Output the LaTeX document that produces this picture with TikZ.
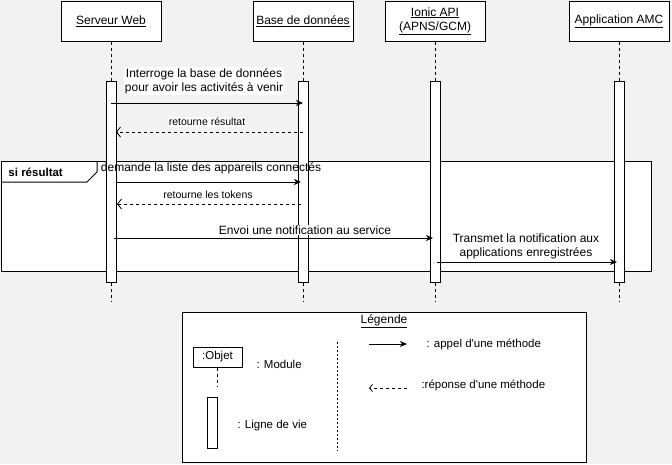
\documentclass[tikz,border=0pt]{standalone}
\usepackage{fontspec}
\setmainfont{Liberation Sans}
\usetikzlibrary{arrows.meta}
\definecolor{bgc}{HTML}{F2F2F2}
\begin{document}
\begin{tikzpicture}[x=1pt,y=-1pt,line width=1pt,
  head/.style={draw,fill=white,minimum width=100pt,minimum height=40pt,inner sep=0pt,align=center,font=\fontsize{12}{14}\selectfont},
  act/.style={draw,fill=white,minimum width=10pt,minimum height=201pt,inner sep=0pt},
  life/.style={dash pattern=on 3pt off 3pt},
  call/.style={-{Stealth[length=7pt,width=6pt,inset=2pt]}},
  reply/.style={dash pattern=on 3pt off 3pt,-{Straight Barb[length=4pt,width=10pt,line width=0.8pt]}},
  msg/.style={font=\fontsize{12}{14}\selectfont,fill=white,inner sep=1pt,align=center},
  smsg/.style={font=\fontsize{10.5}{12}\selectfont,fill=white,inner sep=1pt},
  ltext/.style={font=\fontsize{11.5}{13}\selectfont,anchor=west,inner sep=0pt}
]
\useasboundingbox[fill=bgc] (0,0) rectangle (672,464);

% frame
\node[draw,fill=white,minimum width=649.5pt,minimum height=109.5pt,inner sep=0pt] (frame) at (326.25,216.25) {};
\draw (1.5,182) -- (87,182) -- (97,172) -- (97,161.5);
\node[font=\fontsize{11.5}{13}\selectfont\bfseries,anchor=west,inner sep=0pt] (cond) at (8,172) {si résultat};

% heads
\node[head] (sw) at (111,21) {\underline{Serveur Web}};
\node[head] (db) at (303,21) {\underline{Base de données}};
\node[head] (api) at (435,21) {\underline{Ionic API}\\\underline{(APNS/GCM)}};
\node[head] (app) at (619,21) {\underline{Application AMC}};

% activations
\node[act] (asw) at (111,181.5) {};
\node[act] (adb) at (303,181.5) {};
\node[act] (aapi) at (435,181.5) {};
\node[act] (aapp) at (619,181.5) {};

\coordinate (esw) at (111,302);
\coordinate (edb) at (303,302);
\coordinate (eapi) at (435,302);
\coordinate (eapp) at (619,302);
\foreach \h/\a/\e in {sw/asw/esw,db/adb/edb,api/aapi/eapi,app/aapp/eapp}{
  \draw[life] (\h.south) -- (\a.north);
  \draw[life] (\a.south) -- (\e);
}

% message points
\coordinate (m1a) at (111,103); \coordinate (m1b) at (303,103);
\coordinate (m2a) at (303,132); \coordinate (m2b) at (116,132);
\coordinate (m3a) at (116,182); \coordinate (m3b) at (301,182);
\coordinate (m4a) at (301,204); \coordinate (m4b) at (117,204);
\coordinate (m5a) at (114,238); \coordinate (m5b) at (433,238);
\coordinate (m6a) at (437,262); \coordinate (m6b) at (617,262);

\draw[call] (m1a) -- (m1b);
\draw[reply] (m2a) -- (m2b);
\draw[call] (m3a) -- (m3b);
\draw[reply] (m4a) -- (m4b);
\draw[call] (m5a) -- (m5b);
\draw[call] (m6a) -- (m6b);

\node[msg] (t1) at (204,81) {Interroge la base de données\\pour avoir les activités à venir};
\node[smsg] (t2) at (207,122) {retourne résultat};
\node[msg,fill=none] (t3) at (211,168) {demande la liste des appareils connectés};
\node[smsg] (t4) at (208,195) {retourne les tokens};
\node[msg] (t5) at (305,230) {Envoi une notification au service};
\node[msg] (t6) at (526,246) {Transmet la notification aux\\applications enregistrées};

% legend
\node[draw,fill=white,minimum width=404pt,minimum height=150pt,inner sep=0pt] (leg) at (384,387) {};
\node[font=\fontsize{12}{14}\selectfont,inner sep=0pt] (legt) at (384,321) {\underline{Légende}};
\node[draw,fill=white,minimum width=49pt,minimum height=20pt,inner sep=0pt,font=\fontsize{11.5}{13}\selectfont] (obj) at (217.5,357) {:Objet};
\coordinate (objl) at (217.5,386);
\draw[life] (obj.south) -- (objl);
\node[draw,fill=white,minimum width=10pt,minimum height=51pt,inner sep=0pt] (lact) at (212,422.5) {};
\node[ltext] (lmod) at (256,364) {: Module};
\node[ltext] (lvie) at (237,426) {: Ligne de vie};
\coordinate (d1) at (337,342); \coordinate (d2) at (337,451);
\draw[line width=0.8pt,dash pattern=on 2pt off 2pt] (d1) -- (d2);
\coordinate (la1) at (369,344); \coordinate (la2) at (407,344);
\draw[call] (la1) -- (la2);
\coordinate (lr1) at (407,388); \coordinate (lr2) at (369,388);
\draw[reply,-{Straight Barb[length=3pt,width=7pt,line width=0.8pt]}] (lr1) -- (lr2);
\node[ltext] (lcall) at (426,344) {: appel d\textquotesingle une méthode};
\node[ltext] (lrep) at (421,385) {:réponse d\textquotesingle une méthode};
\end{tikzpicture}
\end{document}
